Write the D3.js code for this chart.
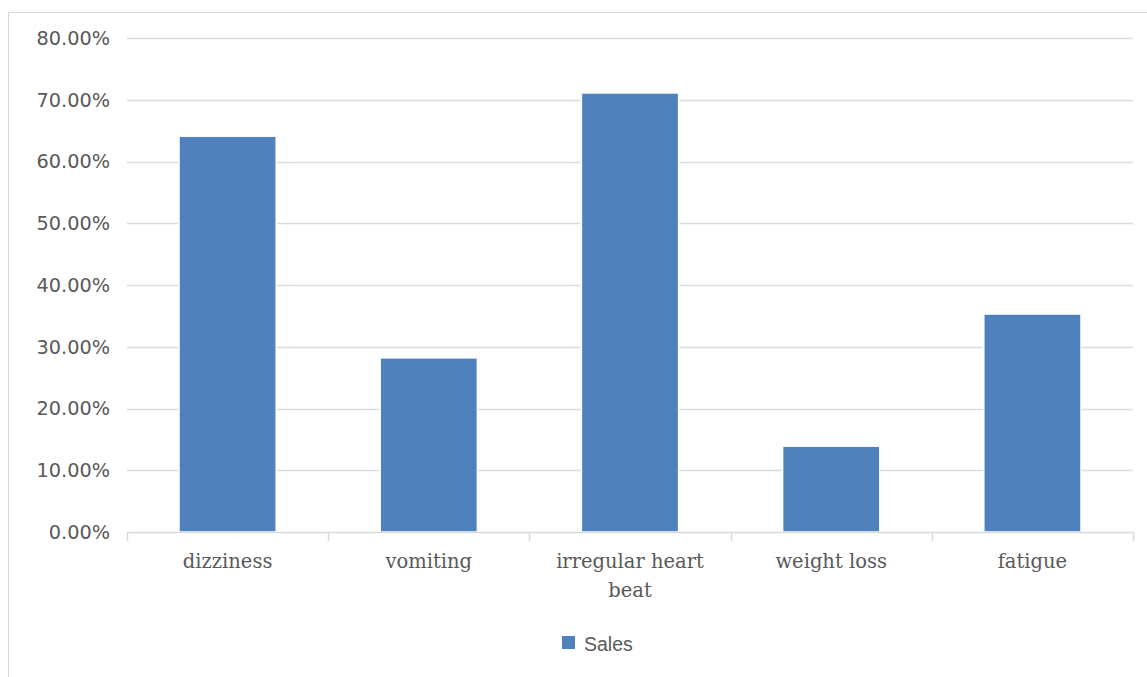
<!DOCTYPE html>
<html>
<head>
<meta charset="utf-8">
<script src="https://cdn.jsdelivr.net/npm/d3@7"></script>
<style>
html,body{margin:0;padding:0;background:#fff;}
svg{display:block;}
</style>
</head>
<body>
<svg id="chart" width="1147" height="677"></svg>
<script>
const categories = ["dizziness", "vomiting", "irregular heart beat", "weight loss", "fatigue"];
const seriesName = "Sales";
const values = [0.641, 0.282, 0.711, 0.139, 0.353];
const yTicks = [0, 0.1, 0.2, 0.3, 0.4, 0.5, 0.6, 0.7, 0.8];

const svg = d3.select("#chart");
const W = 1147, H = 677;
const margin = {left: 127, right: 14, top: 38, bottom: 145};

svg.append("rect").attr("x", 8.5).attr("y", 12.5).attr("width", 1160).attr("height", 700)
  .attr("fill", "#fff").attr("stroke", "#d9d9d9").attr("stroke-width", 1);

const x = d3.scaleBand().domain(categories).range([margin.left, W - margin.right])
  .paddingInner(0.517).paddingOuter(0.2585);
const y = d3.scaleLinear().domain([0, 0.8]).range([H - margin.bottom, margin.top]);

// gridlines
svg.append("g").selectAll("line").data(yTicks.filter(d => d > 0)).join("line")
  .attr("x1", margin.left).attr("x2", W - margin.right)
  .attr("y1", d => Math.round(y(d)) + 0.5).attr("y2", d => Math.round(y(d)) + 0.5)
  .attr("stroke", "#dcdcdc").attr("stroke-width", 1.5);

// y labels
const fmt = d3.format(".2%");
svg.append("g").selectAll("text").data(yTicks).join("text")
  .attr("x", 110).attr("y", d => y(d)).attr("dy", "0.36em")
  .attr("text-anchor", "end")
  .attr("font-family", "DejaVu Sans").attr("font-size", 19.3).attr("fill", "#595959")
  .text(d => fmt(d));

// bars
svg.append("g").selectAll("rect").data(values).join("rect")
  .attr("x", (d, i) => x(categories[i]))
  .attr("width", x.bandwidth())
  .attr("y", d => y(d))
  .attr("height", d => y(0) - y(d))
  .attr("fill", "#4f81bd").attr("stroke", "#fff").attr("stroke-width", 1.5);

// x axis
const x0 = y(0);
const axis = svg.append("g");
axis.append("line").attr("x1", margin.left).attr("x2", W - margin.right)
  .attr("y1", Math.round(x0) + 0.5).attr("y2", Math.round(x0) + 0.5)
  .attr("stroke", "#d9d9d9").attr("stroke-width", 1.5);
const bounds = categories.map(c => x(c) - x.step() * x.paddingInner() / 2);
bounds.push(W - margin.right);
axis.selectAll("line.tick").data(bounds).join("line").attr("class", "tick")
  .attr("x1", d => Math.round(d) + 0.5).attr("x2", d => Math.round(d) + 0.5)
  .attr("y1", x0).attr("y2", x0 + 9)
  .attr("stroke", "#d9d9d9").attr("stroke-width", 1.5);

const labelLines = {"irregular heart beat": ["irregular heart", "beat"]};
const lbl = axis.selectAll("text.lbl").data(categories).join("text").attr("class", "lbl")
  .attr("x", d => x(d) + x.bandwidth() / 2).attr("y", 568)
  .attr("text-anchor", "middle")
  .attr("font-family", "DejaVu Serif").attr("font-size", 19.5).attr("fill", "#595959");
lbl.each(function(d) {
  const lines = labelLines[d] || [d];
  const t = d3.select(this);
  lines.forEach((ln, k) => {
    t.append("tspan").attr("x", x(d) + x.bandwidth() / 2).attr("dy", k === 0 ? 0 : 28.5).text(ln);
  });
});

// legend
const lg = svg.append("g");
lg.append("rect").attr("x", 562).attr("y", 636).attr("width", 13).attr("height", 13).attr("fill", "#4f81bd");
lg.append("text").attr("x", 584).attr("y", 651)
  .attr("font-family", "Liberation Sans").attr("font-size", 19.5).attr("fill", "#595959")
  .text(seriesName);
</script>
</body>
</html>
